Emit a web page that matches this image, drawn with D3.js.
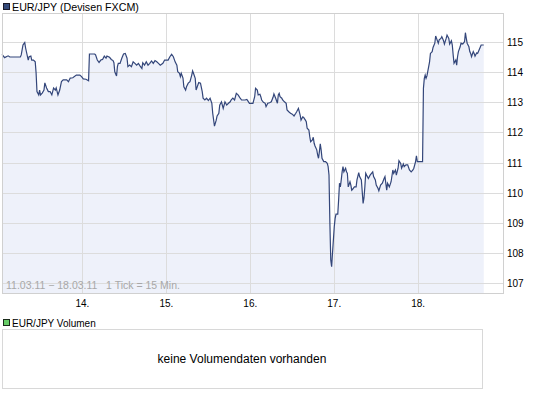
<!DOCTYPE html>
<html>
<head>
<meta charset="utf-8">
<script src="https://cdn.jsdelivr.net/npm/d3@7"></script>
<style>
  body { margin: 0; background: #fff; }
  text { font-family: Arial, "Liberation Sans", sans-serif; }
</style>
</head>
<body>
<div id="chart"></div>
<script>
// EUR/JPY 11.03.11 - 18.03.11, 1 tick = 15 min (weekend skipped)
// tick index since first quote, and the price at that tick
const ticks = [0,3,7,9,15,21,22,24,26,27,30,31,33,34,36,38,39,40,42,43,44,46,48,49,51,53,55,57,59,61,62,64,66,68,70,74,76,78,81,85,89,91,93,96,99,
  100,106,107,109,111,113,115,117,119,120,123,125,127,128,129,131,132,133,135,137,139,141,143,144,146,148,150,152,154,156,158,160,161,163,165,167,169,171,173,175,177,179,181,184,186,190,192,194,196,198,
  200,201,203,204,205,207,208,210,211,213,215,217,218,219,221,222,224,225,227,229,230,232,234,236,238,240,241,243,245,246,248,249,251,253,255,257,259,261,262,264,266,268,270,272,274,278,280,281,283,287,289,290,292,293,295,296,297,299,
  301,302,304,306,308,310,311,313,315,316,317,318,320,321,323,325,326,328,330,332,334,336,337,339,340,341,342,344,345,347,348,349,351,352,353,355,356,357,358,360,361,362,363,364,365,366,368,370,372,373,374,375,376,377,378,379,380,381,382,384,385,386,387,388,389,390,391,393,394,395,396,398,399,
  400,401,403,405,406,408,409,411,413,414,415,416,417,419,421,424,425,427,428,430,431,433,435,437,438,440,441,443,445,447,448,450,451,453,454,456,457,459,460,462,464,466,468,470,471,473,474,475,477,481,482,483,484,485,486,488,489,490,492,493,495,496,497,499,
  500,502,503,505,506,508,509,511,512,514,515,516,517,519,520,521,522,524,525,527,529,530,531,532,534,535,536,537,539,540,541,543,544,546,548,550,551];
const prices = [114.60,114.49,114.55,114.51,114.51,114.51,114.58,114.91,114.99,114.81,114.41,114.52,114.54,114.41,114.41,114.35,113.98,113.36,113.25,113.41,113.25,113.31,113.41,113.65,113.48,113.36,113.36,113.25,113.48,113.41,113.48,113.25,113.41,113.69,113.75,113.75,113.69,113.81,113.82,113.91,113.91,113.86,113.78,113.77,113.72,
  114.61,114.61,114.58,114.41,114.33,114.41,114.43,114.54,114.47,114.54,114.50,114.43,114.39,114.32,114.02,113.88,114.19,114.30,114.30,114.47,114.61,114.63,114.47,114.19,114.24,114.19,114.35,114.30,114.24,114.30,114.21,114.13,114.32,114.24,114.35,114.24,114.30,114.38,114.30,114.39,114.35,114.30,114.24,114.30,114.41,114.41,114.52,114.60,114.52,114.35,
  114.24,114.02,113.97,113.86,113.97,113.81,113.52,113.41,113.52,113.64,113.69,113.91,114.05,113.97,113.80,113.41,113.58,113.66,113.64,113.36,113.14,113.08,113.14,113.06,113.14,112.97,112.64,112.21,112.41,112.55,112.64,112.91,113.02,112.80,113.02,112.91,112.97,113.02,113.08,113.14,113.08,113.30,113.25,113.16,113.08,113.08,113.10,113.06,112.97,112.97,113.19,113.47,113.41,113.25,113.27,113.19,113.08,113.00,
  112.97,112.86,112.97,112.99,113.02,113.17,113.28,113.14,112.97,113.25,113.30,113.19,113.14,113.08,113.02,112.97,112.75,112.69,112.64,112.61,112.55,112.64,112.69,112.80,112.69,112.58,112.41,112.52,112.50,112.41,112.36,112.14,112.08,111.86,111.69,111.75,111.84,111.64,111.55,111.42,111.25,111.14,111.36,111.62,111.42,111.14,111.03,111.03,110.97,110.86,110.58,108.99,107.76,107.53,107.99,108.42,108.86,109.14,109.28,109.28,109.75,110.31,110.19,110.42,110.69,110.86,110.69,110.81,110.69,110.64,110.19,110.36,110.25,
  110.08,110.11,110.19,110.19,110.42,110.66,110.53,110.42,109.64,109.82,110.19,110.64,110.58,110.47,110.58,110.69,110.53,110.42,110.25,110.14,110.06,110.25,110.31,110.47,110.53,110.08,110.31,110.19,110.36,110.75,110.64,110.75,110.58,110.81,111.06,110.97,110.81,110.95,110.86,110.92,110.92,110.75,110.69,110.75,110.81,111.03,111.22,111.03,111.03,111.03,113.47,113.80,113.91,113.80,113.88,114.19,114.35,114.63,114.69,114.83,114.97,115.21,115.13,114.97,
  115.08,115.13,115.19,115.05,114.94,115.13,115.24,115.13,114.94,115.05,114.91,114.58,114.30,114.41,114.24,114.52,114.69,114.85,114.97,114.94,115.02,115.32,115.13,114.97,114.85,114.69,114.63,114.52,114.69,114.63,114.54,114.65,114.63,114.77,114.91,114.91,114.91];

const dayTicks = [92, 188, 284, 380, 476];
const dayLabels = ["14.", "15.", "16.", "17.", "18."];
const priceTicks = [107, 108, 109, 110, 111, 112, 113, 114, 115];

const width = 545, height = 398;
const plotLeft = 2, plotRight = 503, plotTop = 13, plotBottom = 293;

const svg = d3.select("#chart").append("svg")
  .attr("width", width)
  .attr("height", height);

const x = d3.scaleLinear().domain([0, 573]).range([plotLeft, plotRight]);
const y = d3.scaleLinear().domain([107, 115]).range([282.7, 42.3]);

const data = ticks.map((t, i) => ({ t: t, v: prices[i] }));

// title
svg.append("rect")
  .attr("x", 3.5).attr("y", 3.5).attr("width", 6).attr("height", 6)
  .attr("fill", "#344a7a").attr("stroke", "#1a1a2a");
svg.append("text")
  .attr("x", 12).attr("y", 11)
  .style("font-size", "10.7px")
  .text("EUR/JPY (Devisen FXCM)");

// area under the price line
const area = d3.area()
  .x(d => x(d.t))
  .y0(plotBottom)
  .y1(d => y(d.v));

svg.append("path")
  .datum(data)
  .attr("d", area)
  .attr("fill", "#eef1fa");

// grid
svg.append("g").selectAll("line")
  .data(priceTicks)
  .enter().append("line")
    .attr("x1", plotLeft).attr("x2", plotRight)
    .attr("y1", d => Math.round(y(d)) + 0.5)
    .attr("y2", d => Math.round(y(d)) + 0.5)
    .attr("stroke", "#dcdcdc");

svg.append("g").selectAll("line")
  .data(dayTicks)
  .enter().append("line")
    .attr("x1", d => Math.round(x(d)) + 0.5)
    .attr("x2", d => Math.round(x(d)) + 0.5)
    .attr("y1", plotTop).attr("y2", plotBottom)
    .attr("stroke", "#dcdcdc");

// range note
svg.append("text")
  .attr("x", 6).attr("y", 289)
  .attr("xml:space", "preserve")
  .style("white-space", "pre")
  .style("font-size", "10.5px")
  .style("fill", "#a8a8a8")
  .text("11.03.11 \u2212 18.03.11   1 Tick = 15 Min.");

// price line
const line = d3.line()
  .x(d => x(d.t))
  .y(d => y(d.v));

svg.append("path")
  .datum(data)
  .attr("d", line)
  .attr("fill", "none")
  .attr("stroke", "#33467a")
  .attr("stroke-width", 1.2);

// frame
svg.append("rect")
  .attr("x", plotLeft + 0.5).attr("y", plotTop + 0.5)
  .attr("width", plotRight - plotLeft).attr("height", plotBottom - plotTop)
  .attr("fill", "none").attr("stroke", "#d0d0d0");

// price labels
svg.append("g").selectAll("text")
  .data(priceTicks)
  .enter().append("text")
    .attr("x", 507)
    .attr("y", d => y(d) + 4)
    .style("font-size", "10px")
    .text(d => d);

// day labels
svg.append("g").selectAll("text")
  .data(dayTicks)
  .enter().append("text")
    .attr("x", d => x(d))
    .attr("y", 307)
    .attr("text-anchor", "middle")
    .style("font-size", "10px")
    .text((d, i) => dayLabels[i]);

// volume panel
svg.append("rect")
  .attr("x", 3.5).attr("y", 319.5).attr("width", 6).attr("height", 6)
  .attr("fill", "#66cc66").attr("stroke", "#1a2a1a");
svg.append("text")
  .attr("x", 12).attr("y", 327)
  .style("font-size", "10px")
  .text("EUR/JPY Volumen");
svg.append("rect")
  .attr("x", 2.5).attr("y", 329.5).attr("width", 480).attr("height", 59)
  .attr("fill", "none").attr("stroke", "#d8d8d8");
svg.append("text")
  .attr("x", 242).attr("y", 363)
  .attr("text-anchor", "middle")
  .style("font-size", "12px")
  .text("keine Volumendaten vorhanden");
</script>
</body>
</html>
